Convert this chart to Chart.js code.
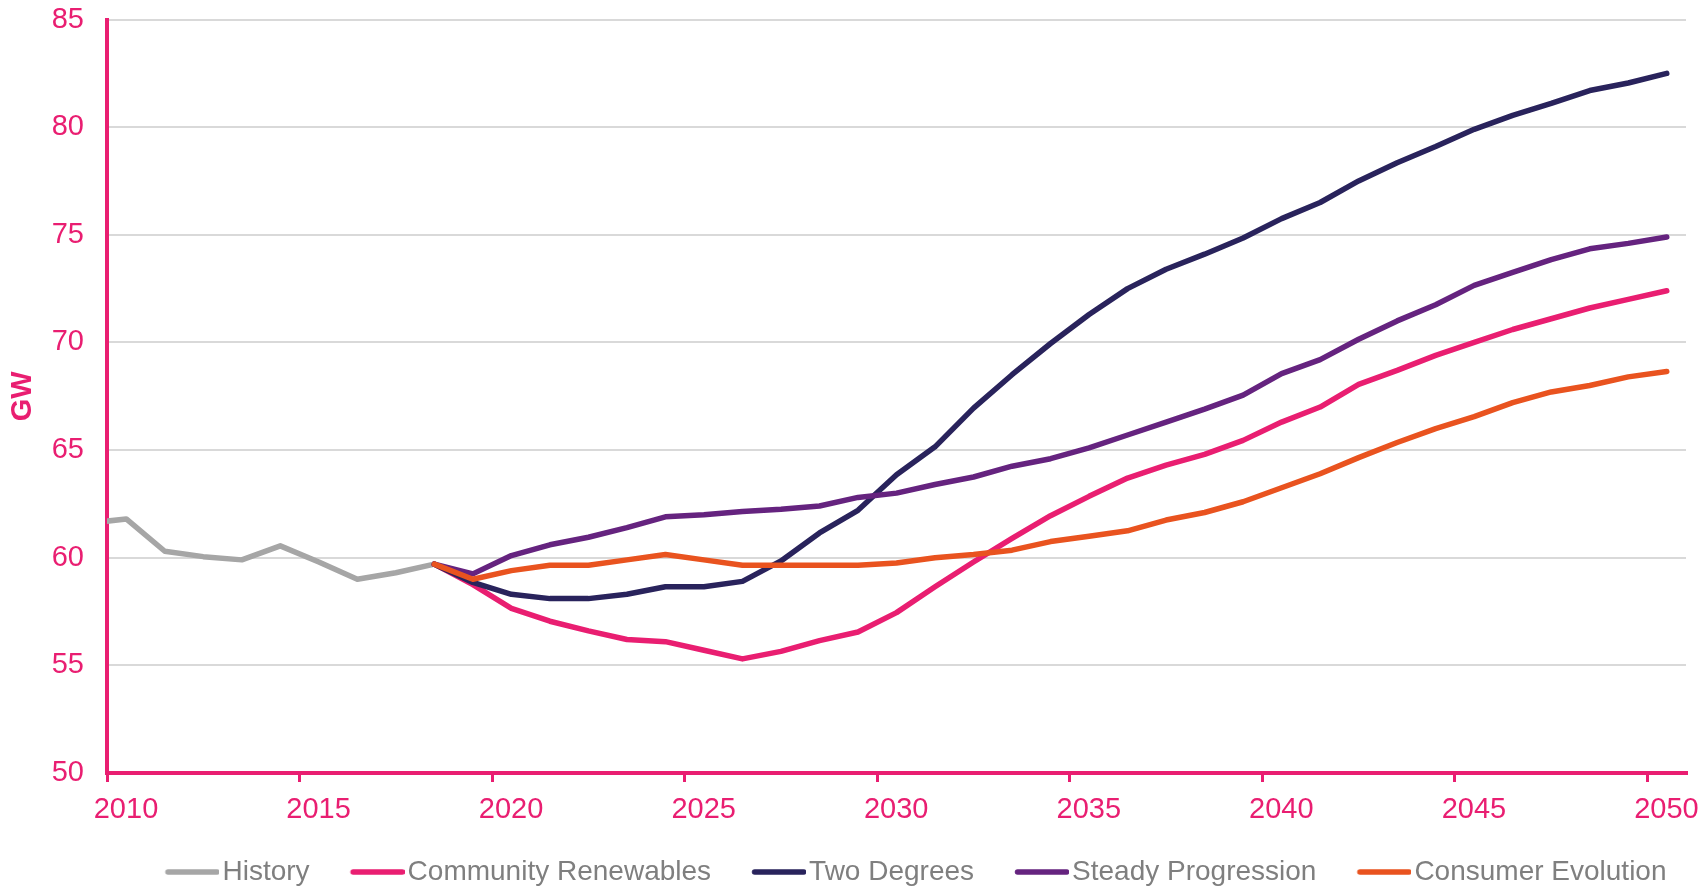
<!DOCTYPE html>
<html>
<head>
<meta charset="utf-8">
<title>Peak demand scenarios</title>
<script src="https://cdn.jsdelivr.net/npm/chart.js@4.4.1/dist/chart.umd.min.js"></script>
<style>
  html, body { margin: 0; padding: 0; background: #fff; }
  #chart { display: block; }
</style>
</head>
<body>
<canvas id="chart" width="1702" height="889"></canvas>
<script>
// --- Data (GW)
const years = [2009, 2010, 2011, 2012, 2013, 2014, 2015, 2016, 2017, 2018, 2019,
  2020, 2021, 2022, 2023, 2024, 2025, 2026, 2027, 2028, 2029,
  2030, 2031, 2032, 2033, 2034, 2035, 2036, 2037, 2038, 2039,
  2040, 2041, 2042, 2043, 2044, 2045, 2046, 2047, 2048, 2049, 2050];

// 2009 .. 2018
const history = [61.6, 61.8, 60.3, 60.05, 59.9, 60.55, 59.8, 59.0, 59.3, 59.7];

// 2018 .. 2050
const communityRenewables = [59.7, 58.75, 57.65, 57.05, 56.6, 56.2, 56.1, 55.7, 55.3, 55.65, 56.15, 56.55,
  57.45, 58.65, 59.8, 60.9, 61.95, 62.85, 63.7, 64.3, 64.8, 65.45,
  66.3, 67.0, 68.05, 68.7, 69.4, 70.0, 70.6, 71.1, 71.6, 72.0, 72.4];
const twoDegrees = [59.7, 58.85, 58.3, 58.1, 58.1, 58.3, 58.65, 58.65, 58.9, 59.85, 61.15, 62.2,
  63.85, 65.15, 66.95, 68.5, 69.95, 71.3, 72.5, 73.4, 74.1, 74.85,
  75.75, 76.5, 77.5, 78.35, 79.1, 79.9, 80.55, 81.1, 81.7, 82.05, 82.5];
const steadyProgression = [59.7, 59.25, 60.1, 60.6, 60.95, 61.4, 61.9, 62.0, 62.15, 62.25, 62.4, 62.8,
  63.0, 63.4, 63.75, 64.25, 64.6, 65.1, 65.7, 66.3, 66.9, 67.55,
  68.55, 69.2, 70.15, 71.0, 71.75, 72.65, 73.25, 73.85, 74.35, 74.6, 74.9];
const consumerEvolution = [59.7, 59.0, 59.4, 59.65, 59.65, 59.9, 60.15, 59.9, 59.65, 59.65, 59.65, 59.65,
  59.75, 60.0, 60.15, 60.35, 60.75, 61.0, 61.25, 61.75, 62.1, 62.6,
  63.25, 63.9, 64.65, 65.35, 66.0, 66.55, 67.2, 67.7, 68.0, 68.4, 68.65];

const xTickYears = [2010, 2015, 2020, 2025, 2030, 2035, 2040, 2045, 2050];
const yTicks = [50, 55, 60, 65, 70, 75, 80, 85];

// --- Style
const PINK = "#E91E71";
const NAVY = "#29235C";
const PURPLE = "#65237F";
const ORANGE = "#E9531F";
const GREY = "#A6A6A6";
const LEGEND_TEXT = "#7F7F7F";

Chart.defaults.font.family = '"Liberation Sans", Arial, sans-serif';

function onYears(values, firstYear){
  return years.map(y => {
    const i = y - firstYear;
    return (i >= 0 && i < values.length) ? values[i] : null;
  });
}

// legend sample: a short thick line pushed to the right of its box, close to the text
const LEG_BOX = 82, LEG_IMG = 104, LEG_LINE = 54;
function legendLine(color){
  const c = document.createElement("canvas");
  c.width = LEG_IMG; c.height = 8;
  const g = c.getContext("2d");
  g.strokeStyle = color;
  g.lineWidth = 5.5;
  g.lineCap = "round";
  g.beginPath();
  g.moveTo(LEG_IMG - LEG_LINE + 2.5, 4);
  g.lineTo(LEG_IMG - 2.5, 4);
  g.stroke();
  return c;
}

function series(label, values, firstYear, color){
  return {
    label,
    data: onYears(values, firstYear),
    borderColor: color,
    backgroundColor: color,
    borderWidth: 5.5,
    borderCapStyle: "round",
    borderJoinStyle: "round",
    pointRadius: 0,
    tension: 0,
    fill: false
  };
}

// listed back to front so that Consumer Evolution is painted on top; legend is reversed
const datasets = [
  series("Consumer Evolution", consumerEvolution, 2018, ORANGE),
  series("Steady Progression", steadyProgression, 2018, PURPLE),
  series("Two Degrees", twoDegrees, 2018, NAVY),
  series("Community Renewables", communityRenewables, 2018, PINK),
  series("History", history, 2009, GREY)
];

new Chart(document.getElementById("chart"), {
  type: "line",
  data: { labels: years, datasets },
  options: {
    responsive: false,
    animation: false,
    events: [],
    layout: { padding: { top: 0, right: 16, bottom: -7, left: 0 } },
    scales: {
      x: {
        type: "linear",
        min: 2009.5,
        max: 2050.5,
        afterBuildTicks: (scale) => {
          scale.ticks = xTickYears.map(y => ({ value: y - 0.5 }));
        },
        afterFit: (scale) => { scale.height = 83; },
        grid: {
          drawOnChartArea: false,
          drawTicks: true,
          tickLength: 9,
          color: PINK,
          lineWidth: 3
        },
        border: { display: true, color: PINK, width: 4 },
        ticks: {
          autoSkip: false,
          maxRotation: 0,
          labelOffset: 19,
          padding: 11,
          color: PINK,
          font: { size: 29 },
          callback: (v) => String(v + 0.5)
        }
      },
      y: {
        min: 50,
        max: 85,
        afterBuildTicks: (scale) => {
          scale.ticks = yTicks.map(v => ({ value: v }));
        },
        afterFit: (scale) => {
          scale.width = 107;
          scale.paddingTop = 19.5;
        },
        grid: {
          drawTicks: false,
          lineWidth: 2,
          color: (ctx) => (ctx.tick && ctx.tick.value === 50) ? "rgba(0,0,0,0)" : "#D9D9D9"
        },
        border: { display: true, color: PINK, width: 4 },
        ticks: {
          padding: 23,
          color: PINK,
          font: { size: 29 }
        },
        title: {
          display: true,
          text: "GW",
          color: PINK,
          font: { size: 29, weight: "bold" },
          padding: { top: 6, bottom: 0 }
        }
      }
    },
    plugins: {
      tooltip: { enabled: false },
      legend: {
        position: "bottom",
        fullSize: false,
        reverse: true,
        labels: {
          usePointStyle: true,
          pointStyleWidth: LEG_BOX,
          padding: 2,
          color: LEGEND_TEXT,
          font: { size: 28 },
          generateLabels: (chart) => {
            const items = Chart.defaults.plugins.legend.labels.generateLabels(chart);
            items.forEach(it => {
              it.pointStyle = legendLine(chart.data.datasets[it.datasetIndex].borderColor);
            });
            return items;
          }
        }
      }
    }
  }
});
</script>
</body>
</html>
